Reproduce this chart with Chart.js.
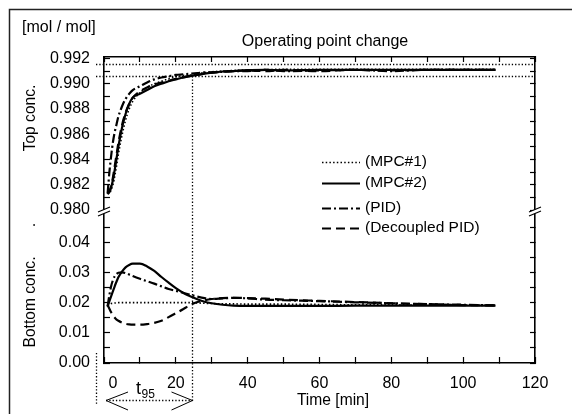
<!DOCTYPE html>
<html><head><meta charset="utf-8">
<script src="https://cdn.jsdelivr.net/npm/chart.js@4.4.0/dist/chart.umd.min.js"></script>
<style>html,body{margin:0;padding:0;background:#fff}#wrap{width:572px;height:414px;position:relative}</style>
</head><body><div id="wrap"><canvas id="c" width="572" height="414"></canvas></div>
<script>
// ---- data ----
const time = [1, 1.5, 2, 2.5, 3, 3.5, 4, 5, 6, 7, 8, 10, 12, 14, 16, 18, 20, 22, 24, 26, 28, 30, 33, 36, 40, 45, 50, 60, 70, 80, 90, 100, 109];
const seriesNames = ['(MPC#1)', '(MPC#2)', '(PID)', '(Decoupled PID)'];

const topMPC1 = [0.9813, 0.9813, 0.9816, 0.9820, 0.9827, 0.9835, 0.9844, 0.9859, 0.9871, 0.9880, 0.9886, 0.9893, 0.9897, 0.9900, 0.9902, 0.9904, 0.99055, 0.99065, 0.9907, 0.9908, 0.99088, 0.99095, 0.9910, 0.99105, 0.9911, 0.99112, 0.99115, 0.99115, 0.99115, 0.99115, 0.99115, 0.99115, 0.99115];
const topMPC2 = [0.9813, 0.9814, 0.9818, 0.9824, 0.9832, 0.9841, 0.9850, 0.9865, 0.9876, 0.9884, 0.9889, 0.9892, 0.9895, 0.9898, 0.9900, 0.9902, 0.99035, 0.9905, 0.9906, 0.9907, 0.9908, 0.99088, 0.99097, 0.9910, 0.99108, 0.9911, 0.99105, 0.9911, 0.9911, 0.9911, 0.9911, 0.9911, 0.9911];
const topPID = [0.9813, 0.9830, 0.9843, 0.9854, 0.9862, 0.9868, 0.9874, 0.9882, 0.9888, 0.9892, 0.9895, 0.9898, 0.9901, 0.99035, 0.9905, 0.9906, 0.9907, 0.99075, 0.9908, 0.99085, 0.9909, 0.9909, 0.99095, 0.9910, 0.9910, 0.9911, 0.9910, 0.99105, 0.9911, 0.9910, 0.9911, 0.9911, 0.9911];
const topDecPID = [0.9813, 0.9815, 0.9819, 0.9826, 0.9835, 0.9844, 0.9853, 0.9867, 0.9877, 0.9884, 0.9889, 0.9894, 0.9897, 0.98995, 0.9901, 0.99025, 0.9904, 0.9905, 0.99065, 0.9907, 0.9908, 0.99088, 0.99095, 0.9910, 0.99105, 0.9910, 0.9911, 0.9910, 0.9911, 0.99105, 0.9911, 0.9911, 0.9911];

const botMPC1 = [0.0190, 0.0194, 0.0197, 0.0198, 0.0199, 0.0199, 0.0200, 0.0200, 0.0200, 0.0200, 0.0200, 0.0200, 0.0200, 0.0200, 0.0200, 0.0200, 0.0200, 0.0200, 0.0200, 0.0199, 0.0198, 0.0197, 0.0196, 0.0196, 0.0195, 0.0195, 0.0195, 0.0194, 0.0193, 0.0193, 0.0192, 0.0192, 0.0191];
const botMPC2 = [0.0186, 0.0205, 0.0222, 0.0238, 0.0255, 0.0270, 0.0284, 0.0303, 0.0317, 0.0325, 0.0329, 0.0329, 0.0320, 0.0305, 0.0285, 0.0266, 0.0248, 0.0233, 0.0221, 0.0211, 0.0203, 0.0198, 0.0193, 0.0190, 0.0189, 0.0189, 0.0189, 0.0189, 0.0190, 0.0190, 0.0190, 0.0190, 0.0190];
const botPID = [0.0188, 0.0225, 0.0255, 0.0275, 0.0288, 0.0295, 0.0299, 0.0300, 0.0298, 0.0293, 0.0288, 0.0279, 0.0271, 0.0263, 0.0254, 0.0245, 0.0239, 0.0233, 0.0226, 0.0220, 0.0215, 0.0212, 0.0214, 0.0216, 0.0214, 0.0210, 0.0208, 0.0205, 0.0201, 0.0198, 0.0195, 0.0193, 0.0191];
const botDecPID = [0.0192, 0.0180, 0.0168, 0.0158, 0.0150, 0.0144, 0.0140, 0.0134, 0.0130, 0.0128, 0.0127, 0.0127, 0.0129, 0.0133, 0.0140, 0.0152, 0.0165, 0.0178, 0.0192, 0.0202, 0.0208, 0.0212, 0.0215, 0.0216, 0.0215, 0.0213, 0.0210, 0.0206, 0.0202, 0.0198, 0.0195, 0.0192, 0.0191];

const xTicks = [0, 10, 20, 30, 40, 50, 60, 70, 80, 90, 100, 110, 120];
const xTickLabels = ['    0', '', '20', '', '40', '', '60', '', '80', '', '100', '', '120'];
const topTicks = [0.980, 0.981, 0.982, 0.983, 0.984, 0.985, 0.986, 0.987, 0.988, 0.989, 0.990, 0.991, 0.992];
const topTickLabels = ['0.980', '', '0.982', '', '0.984', '', '0.986', '', '0.988', '', '0.990', '', '0.992'];
const botTicks = [0, 0.005, 0.01, 0.015, 0.02, 0.025, 0.03, 0.035, 0.04, 0.045];
const botTickLabels = ['0.00', '', '0.01', '', '0.02', '', '0.03', '', '0.04', ''];
const topRange = [0.980, 0.99212];
const botRange = [0, 0.0507];
const xRange = [0, 120];
const bandLimits = [0.9906, 0.9916];
const t95 = 24.6;

// ---- styles ----
const FONT = "'Liberation Sans', Arial, sans-serif";
const styles = [
  {borderDash: [1.5, 2.2], borderWidth: 1.6},
  {borderDash: [], borderWidth: 2.2},
  {borderDash: [9, 3, 2, 3], borderWidth: 2.2},
  {borderDash: [9, 5], borderWidth: 2.2}
];
const topSeries = [topMPC1, topMPC2, topPID, topDecPID];
const botSeries = [botMPC1, botMPC2, botPID, botDecPID];

const pts = arr => time.map((t, i) => ({x: t, y: arr[i]}));
const datasets = [];
topSeries.forEach((arr, i) => datasets.push(Object.assign({
  label: seriesNames[i], data: pts(arr), yAxisID: 'yT', xAxisID: 'x',
  borderColor: '#000', pointRadius: 0, fill: false, cubicInterpolationMode: 'monotone'
}, styles[i])));
botSeries.forEach((arr, i) => datasets.push(Object.assign({
  label: seriesNames[i], data: pts(arr), yAxisID: 'yB', xAxisID: 'x',
  borderColor: '#000', pointRadius: 0, fill: false, cubicInterpolationMode: 'monotone'
}, styles[i])));

const setTicks = vals => s => { s.ticks = vals.map(v => ({value: v})); };
const gridIn = len => ({drawOnChartArea: false, tickLength: -len, color: '#000', tickWidth: 1.2});
const borderBlack = {color: '#000', width: 1.6};
const tickFont = {family: FONT, size: 16};

const extras = {
  id: 'extras',
  afterDraw(chart) {
    const ctx = chart.ctx;
    const x = chart.scales.x, yT = chart.scales.yT;
    const ca = chart.chartArea;
    ctx.save();
    // outer frame (top + left)
    ctx.strokeStyle = '#222'; ctx.lineWidth = 1.5; ctx.setLineDash([]);
    ctx.beginPath(); ctx.moveTo(9.5, 414); ctx.lineTo(9.5, 9.5); ctx.lineTo(572, 9.5); ctx.stroke();

    // dotted band lines
    ctx.strokeStyle = '#000'; ctx.lineWidth = 1.3; ctx.setLineDash([1.3, 2]);
    bandLimits.forEach(v => {
      const py = Math.round(yT.getPixelForValue(v)) + 0.5;
      ctx.beginPath(); ctx.moveTo(ca.left - 8, py); ctx.lineTo(ca.right, py); ctx.stroke();
    });
    // t95 vertical
    const xt = Math.round(x.getPixelForValue(t95)) + 0.5;
    ctx.beginPath(); ctx.moveTo(xt, yT.getPixelForValue(bandLimits[0])); ctx.lineTo(xt, 401); ctx.stroke();
    // left vertical marker
    const xl = Math.round(ca.left - 8) + 0.5;
    ctx.beginPath(); ctx.moveTo(xl, 353); ctx.lineTo(xl, 404); ctx.stroke();
    // arrow shaft
    const x0 = x.getPixelForValue(0) + 2;
    ctx.beginPath(); ctx.moveTo(x0, 400.5); ctx.lineTo(xt, 400.5); ctx.stroke();
    // arrow heads
    ctx.setLineDash([]); ctx.lineWidth = 1;
    ctx.beginPath();
    ctx.moveTo(x0 + 22, 392); ctx.lineTo(x0, 400.5); ctx.lineTo(x0 + 22, 410);
    ctx.moveTo(xt - 21, 392); ctx.lineTo(xt, 400.5); ctx.lineTo(xt - 21, 410);
    ctx.stroke();

    // axis breaks
    const yb = yT.bottom;
    [ca.left, ca.right].forEach(bx => {
      ctx.fillStyle = '#fff';
      ctx.beginPath();
      ctx.moveTo(bx - 6, yb + 2); ctx.lineTo(bx + 6, yb - 3); ctx.lineTo(bx + 6, yb + 1); ctx.lineTo(bx - 6, yb + 6);
      ctx.closePath(); ctx.fill();
      ctx.strokeStyle = '#000'; ctx.lineWidth = 1.2;
      ctx.beginPath();
      ctx.moveTo(bx - 6, yb + 2); ctx.lineTo(bx + 6, yb - 3);
      ctx.moveTo(bx - 6, yb + 6); ctx.lineTo(bx + 6, yb + 1);
      ctx.stroke();
    });

    // legend
    ctx.fillStyle = '#000'; ctx.textBaseline = 'middle'; ctx.textAlign = 'left';
    ctx.font = '15.5px ' + FONT;
    const legY = [162, 183, 208, 228];
    for (let i = 0; i < 4; i++) {
      const ds = chart.data.datasets[i];
      ctx.strokeStyle = '#000'; ctx.lineWidth = ds.borderWidth; ctx.setLineDash(ds.borderDash);
      ctx.beginPath(); ctx.moveTo(322, legY[i] + 0.5); ctx.lineTo(360, legY[i] + 0.5); ctx.stroke();
      ctx.fillText(ds.label, 365, legY[i]);
    }
    ctx.setLineDash([]);

    // texts
    ctx.font = '16px ' + FONT;
    ctx.textAlign = 'left';
    ctx.fillText('[mol / mol]', 22, 28);
    ctx.textAlign = 'center';
    ctx.fillText('Operating point change', 325, 42);
    ctx.font = '15.6px ' + FONT;
    ctx.fillText('Time [min]', 333, 401);
    // rotated y titles
    const rot = (txt, cx, cy) => { ctx.save(); ctx.translate(cx, cy); ctx.rotate(-Math.PI / 2); ctx.fillText(txt, 0, 0); ctx.restore(); };
    rot('Top conc.', 31, 118);
    rot('Bottom conc.', 31, 302);
    rot('.', 31, 225);
    // t95
    ctx.textAlign = 'left'; ctx.textBaseline = 'alphabetic';
    ctx.font = '18px ' + FONT;
    ctx.fillText('t', 136, 394);
    ctx.font = '12px ' + FONT;
    ctx.fillText('95', 141.5, 397.5);
    ctx.restore();
  }
};

new Chart(document.getElementById('c'), {
  type: 'line',
  data: {datasets},
  options: {
    responsive: false, animation: false, devicePixelRatio: 1,
    layout: {padding: {left: 44, right: 37, top: 57, bottom: 21}},
    plugins: {legend: {display: false}, tooltip: {enabled: false}},
    scales: {
      x: {type: 'linear', position: 'bottom', min: xRange[0], max: xRange[1],
        afterBuildTicks: setTicks(xTicks), afterFit: s => { s.height = 30; },
        ticks: {callback: (v, i) => xTickLabels[i], font: tickFont, color: '#000', padding: 17, maxRotation: 0, autoSkip: false},
        grid: gridIn(6), border: borderBlack},
      x2: {type: 'linear', position: 'top', min: xRange[0], max: xRange[1],
        afterBuildTicks: setTicks(xTicks), afterFit: s => { s.height = 0; },
        ticks: {display: false}, grid: gridIn(5), border: borderBlack},
      yB: {type: 'linear', position: 'left', stack: 'L', stackWeight: 1, weight: 0,
        min: botRange[0], max: botRange[1],
        afterBuildTicks: setTicks(botTicks), afterFit: s => { s.width = 60; },
        ticks: {callback: (v, i) => botTickLabels[i], font: tickFont, color: '#000', padding: 20, autoSkip: false},
        grid: gridIn(6), border: borderBlack},
      yT: {type: 'linear', position: 'left', stack: 'L', stackWeight: 1, weight: 1,
        min: topRange[0], max: topRange[1],
        afterBuildTicks: setTicks(topTicks), afterFit: s => { s.width = 60; },
        ticks: {callback: (v, i) => topTickLabels[i], font: tickFont, color: '#000', padding: 20, autoSkip: false},
        grid: gridIn(6), border: borderBlack},
      yTR: {type: 'linear', position: 'right', stack: 'R', stackWeight: 1, weight: 0,
        min: topRange[0], max: topRange[1],
        afterBuildTicks: setTicks(topTicks), afterFit: s => { s.width = 0; },
        ticks: {display: false}, grid: gridIn(5), border: borderBlack},
      yBR: {type: 'linear', position: 'right', stack: 'R', stackWeight: 1, weight: 1,
        min: botRange[0], max: botRange[1],
        afterBuildTicks: setTicks(botTicks), afterFit: s => { s.width = 0; },
        ticks: {display: false}, grid: gridIn(5), border: borderBlack}
    }
  },
  plugins: [extras]
});
</script></body></html>
